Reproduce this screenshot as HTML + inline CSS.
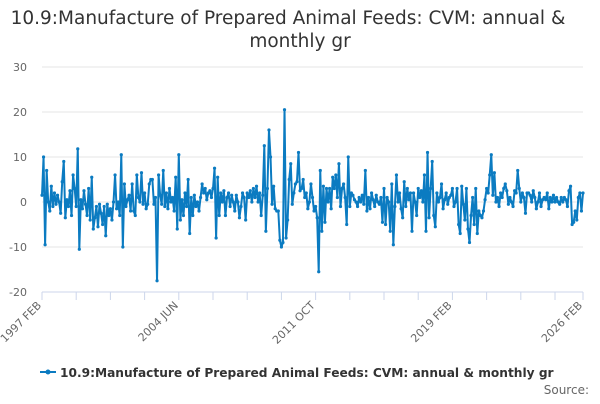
<!DOCTYPE html>
<html><head><meta charset="utf-8"><style>
body{margin:0;background:#fff;font-family:"DejaVu Sans","Liberation Sans",sans-serif}
svg text{font-family:"DejaVu Sans","Liberation Sans",sans-serif}
</style></head><body>
<svg id="c" width="600" height="400" xmlns="http://www.w3.org/2000/svg">
<text x="288" y="24" text-anchor="middle" font-size="18.5" fill="#333">10.9:Manufacture of Prepared Animal Feeds: CVM: annual &amp;</text>
<text x="300" y="47" text-anchor="middle" font-size="18.5" fill="#333">monthly gr</text>
<g id="grid"></g><g id="xax"></g><g id="series"></g>
<g>
<line x1="40" y1="372" x2="56" y2="372" stroke="#0b7bc1" stroke-width="2"/>
<circle cx="48" cy="372" r="2.5" fill="#0b7bc1"/>
<text x="60" y="377" font-size="12.2" font-weight="bold" fill="#333">10.9:Manufacture of Prepared Animal Feeds: CVM: annual &amp; monthly gr</text>
</g>
<text x="589" y="394" text-anchor="end" font-size="12" fill="#666">Source:</text>
</svg>
<script>
const yTicks=[30,20,10,0,-10,-20];
const xLabels=["1997 FEB","2004 JUN","2011 OCT","2019 FEB","2026 FEB"];
const xLabelIdx=[0,88,176,264,348];
const values=[
1.5,10,-9.5,7,0,-2,3.5,-1,2,-0.5,1.5,
0,-2.5,4.5,9,-3.5,0.5,-1,2.5,-3,6,3,-1,
11.8,-10.5,0.5,-1.5,2.5,-0.5,-3,3,-4,5.5,-6,-3.5,
-1,-5.5,-0.5,-2.5,-5,-1,-7.5,-0.5,-3,-1.5,-4,0,
6,-1.5,0,-3,10.5,-10,4,-1,0.5,1.5,-2,4,
-2,-3,6,1,0,6.5,-0.5,2,-1.5,-0.5,4,5,
5,-0.5,1,-17.5,6,1.5,-0.5,7,-1,2,-1.5,3,
0,1,-2,5.5,-6,10.5,-4,0.5,-3,2,-1,5,
-7,1,-3,1.5,-1,0,-2,1,4,2,3,0.5,
2,2.5,1,3,7.5,-8,5.5,-3,2,0,2.5,-3,
1,2,-1,1.5,0,-2,1.5,0,-3.5,-1,2,1,
-4,2,1,2.5,0,3,1,3.5,0,2,-3,1.5,
12.5,-6.5,3,16,10,-0.5,3.5,-1.5,-2,-2,-8.5,-10,
-9,20.5,-8,-4,5,8.5,-0.5,2,4,4.5,11,2.5,
3,5,1,2,-1.5,0,4,1,-2,-1,-3.5,-15.5,
7,-6.5,3.5,-4.5,3,0,3,-1.5,5.5,3,6,1,
8.5,-1,3,4,1,-5,10,-1,2,1.5,0.5,0,
-1,1,0,1.5,-0.5,7,-2,1,-1.5,2,0.5,-1,
1.5,0,-0.5,1,-4.5,3,-5,1,0,-6.5,4,-9.5,
-1,6,0,2,-1.5,-3.5,4.5,-1,3,0.5,2,-6.5,
2,0,-3,3,1,2.5,0,6,-6.5,11,-3.5,3,
9,-3,-5.5,2,0,1,4,-1.5,0.5,2,-0.5,1,
1.5,3,-1,0,3,-5,-7,3.5,-0.5,-4,3,-6,
-9,-3,1,-5,3,-7,-2,-3,-3.5,-2,0.5,3,
2,6,10.5,1.5,6.5,0,1,-1,2,1,3,4,
2.5,-0.5,1,0,-1,2.5,2,7,3,0,2,1,
-2.5,2,2,1.5,0,2.5,1,-1.5,0,2,-1,0.5,
1,0.5,2,-1.5,1,0,1.5,0,1,0,-0.5,1,
0,1,0.5,-1,2.5,3.5,-5,-4.5,-2,-4,1,2,
-2,2
];
const NS="http://www.w3.org/2000/svg";
const x0=42,x1=583,y0=292,yTop=67;
const n=348;
function X(i){return x0+(x1-x0)*i/n;}
function Y(v){return y0-(v+20)*(y0-yTop)/50;}
function mk(t,a){const e=document.createElementNS(NS,t);for(const k in a)e.setAttribute(k,a[k]);return e;}
const grid=document.getElementById('grid');
yTicks.forEach(t=>{
 if(t!==-20){const l=mk('line',{x1:x0,x2:x1,y1:Y(t),y2:Y(t),stroke:'#e6e6e6','stroke-width':1});
 
 
 grid.appendChild(l);}
 const tx=mk('text',{x:27,y:Y(t)+4,'text-anchor':'end','font-size':11,fill:'#666'});
 tx.textContent=t;
 
 
 grid.appendChild(tx);
});
const xax=document.getElementById('xax');
const ax=mk('line',{x1:x0,x2:x1,y1:y0,y2:y0,stroke:'#ccd6eb','stroke-width':1});


xax.appendChild(ax);
for(let i=0;i<=n;i+=22){const t=mk('line',{x1:X(i),x2:X(i),y1:y0,y2:y0+8,stroke:'#ccd6eb'});
 
 
 xax.appendChild(t);}
const lt=mk('line',{x1:X(n),x2:X(n),y1:y0,y2:y0+8,stroke:'#ccd6eb'});xax.appendChild(lt);
xLabels.forEach((s,k)=>{const px=X(xLabelIdx[k]);
 const t=mk('text',{x:px,y:y0+14,'text-anchor':'end','font-size':11,fill:'#666',transform:`rotate(-45 ${px} ${y0+14})`});
 t.textContent=s;
 
 
 xax.appendChild(t);});
const ser=document.getElementById('series');
const pts=values.map((v,i)=>X(i).toFixed(2)+','+Y(v).toFixed(2)).join(' ');
const pl=mk('polyline',{points:pts,fill:'none',stroke:'#0b7bc1','stroke-width':2,'stroke-linejoin':'round'});


ser.appendChild(pl);
values.forEach((v,i)=>{const c=mk('circle',{cx:X(i),cy:Y(v),r:1.6,fill:'#0b7bc1'});
 
 
 ser.appendChild(c);});
</script>
</body></html>
